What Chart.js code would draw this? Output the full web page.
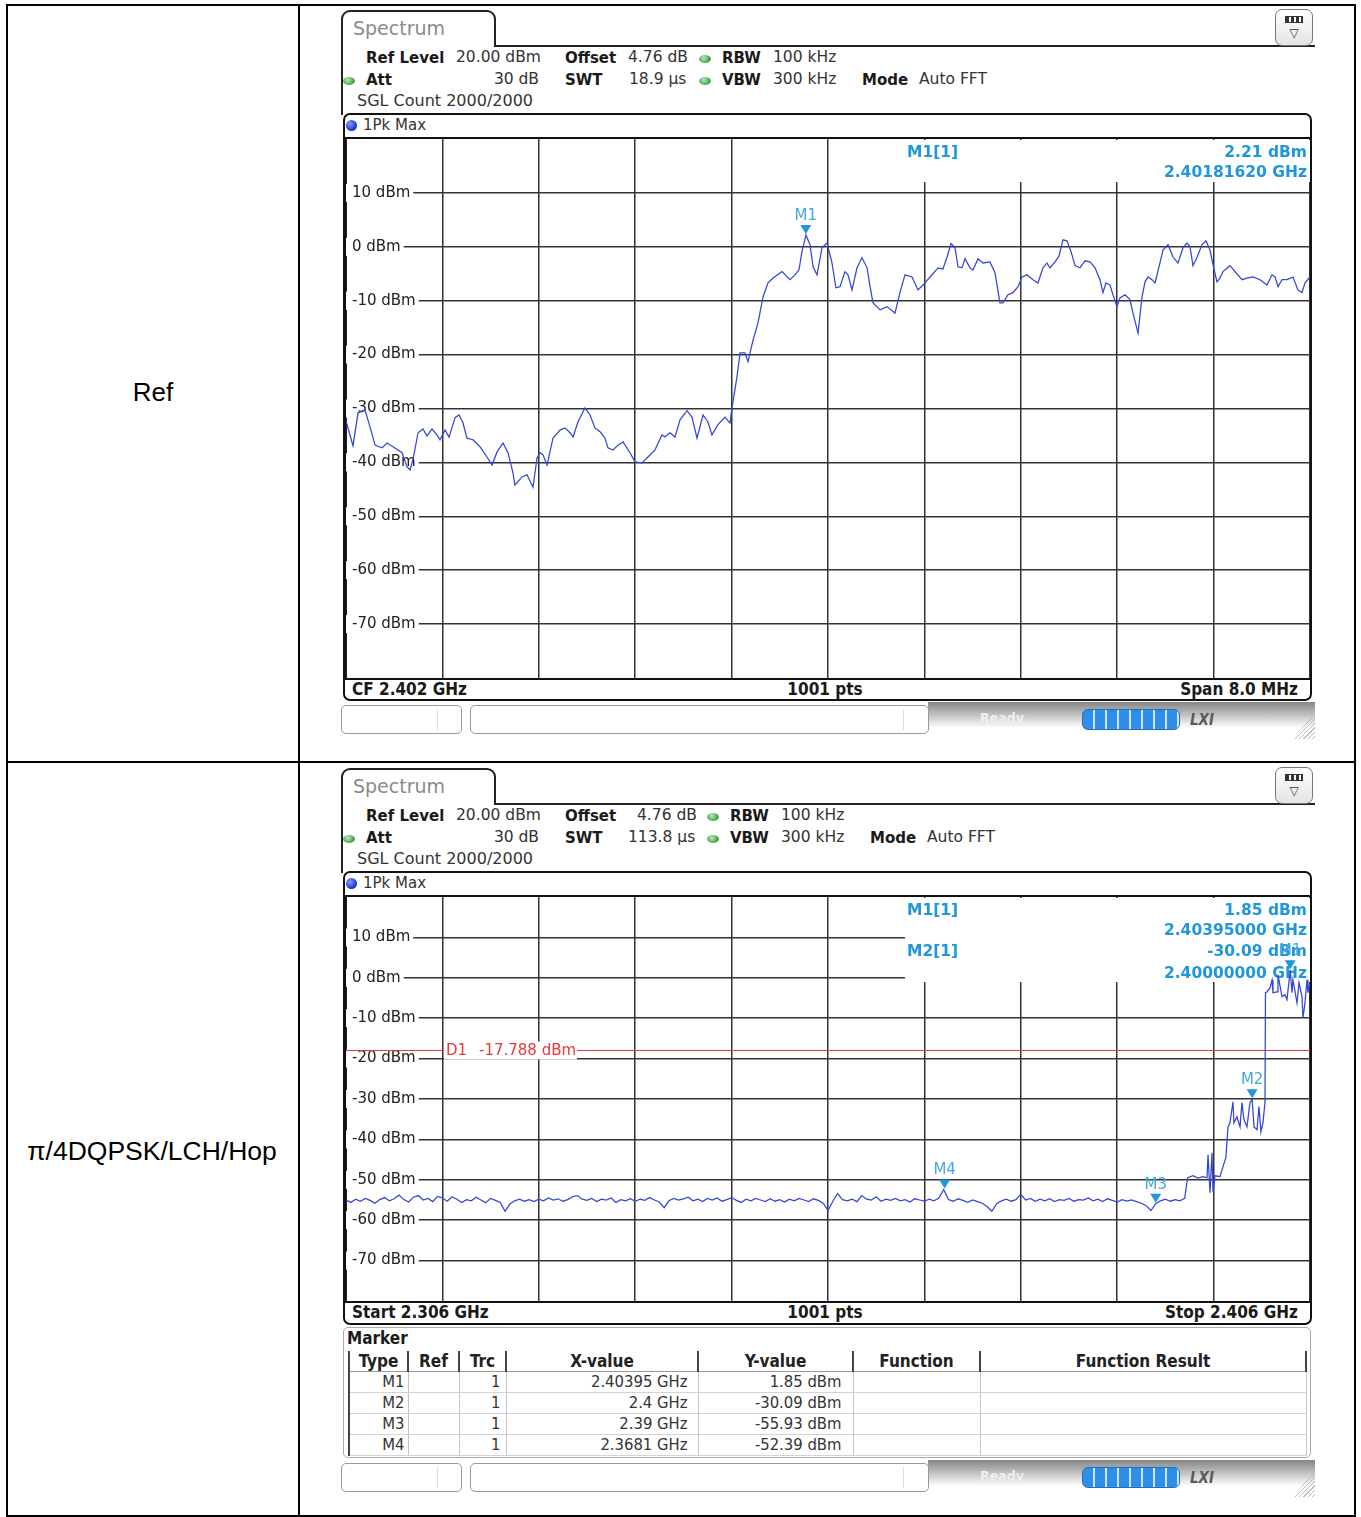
<!DOCTYPE html>
<html>
<head>
<meta charset="utf-8">
<script src="https://cdn.jsdelivr.net/npm/chart.js@4.4.1/dist/chart.umd.min.js"></script>
<style>
  html, body { margin: 0; padding: 0; background: #fff; }
  body { width: 1361px; height: 1517px; position: relative; overflow: hidden; font-family: "DejaVu Sans", sans-serif; color: #222; }
  canvas { position: absolute; }
  .cond { font-family: "DejaVu Sans Condensed", "DejaVu Sans", sans-serif; font-stretch: condensed; }
  table.mk { position: absolute; border-collapse: collapse; table-layout: fixed; }
  table.mk td, table.mk th { padding: 0; height: 20px; line-height: 20px; white-space: nowrap; overflow: hidden; }
  table.mk th { font-weight: bold; font-size: 17px; text-align: center; border-right: 2px solid #444; border-bottom: 1px solid #999; color: #222; }
  table.mk td { font-size: 16.5px; text-align: right; border-right: 1px solid #c4c4c4; border-bottom: 1px solid #d4d4d4; color: #333; }
</style>
</head>
<body>
<script>
// ---------- Ref: CF 2.402 GHz, span 8 MHz ----------
const refStartMHz = 2398;
const refStopMHz = 2406;
const refOffsetMHz = [0.000, 0.058, 0.100, 0.158, 0.199, 0.241, 0.299, 0.340, 0.390, 0.465,
  0.506, 0.531, 0.556, 0.598, 0.639, 0.672, 0.714, 0.755, 0.780, 0.822,
  0.855, 0.905, 0.938, 0.971, 1.004, 1.054, 1.112, 1.170, 1.212, 1.253,
  1.303, 1.344, 1.386, 1.402, 1.461, 1.502, 1.552, 1.585, 1.610, 1.635,
  1.668, 1.718, 1.776, 1.817, 1.859, 1.884, 1.925, 1.983, 2.025, 2.066,
  2.108, 2.149, 2.174, 2.216, 2.257, 2.299, 2.357, 2.398, 2.456, 2.506,
  2.564, 2.622, 2.647, 2.689, 2.730, 2.772, 2.830, 2.871, 2.913, 2.963,
  3.004, 3.037, 3.087, 3.145, 3.187, 3.203, 3.245, 3.270, 3.311, 3.336,
  3.378, 3.419, 3.461, 3.502, 3.544, 3.618, 3.685, 3.726, 3.759, 3.784,
  3.817, 3.851, 3.876, 3.909, 3.950, 3.992, 4.033, 4.066, 4.100, 4.141,
  4.166, 4.199, 4.241, 4.282, 4.324, 4.349, 4.374, 4.432, 4.490, 4.556,
  4.598, 4.639, 4.697, 4.747, 4.788, 4.847, 4.913, 4.954, 4.988, 5.021,
  5.054, 5.079, 5.112, 5.137, 5.178, 5.203, 5.245, 5.286, 5.344, 5.386,
  5.427, 5.452, 5.494, 5.535, 5.577, 5.610, 5.651, 5.701, 5.742, 5.784,
  5.817, 5.842, 5.884, 5.917, 5.950, 5.983, 6.017, 6.050, 6.091, 6.133,
  6.174, 6.216, 6.257, 6.282, 6.307, 6.340, 6.365, 6.398, 6.423, 6.465,
  6.506, 6.531, 6.573, 6.606, 6.631, 6.656, 6.689, 6.714, 6.755, 6.780,
  6.822, 6.863, 6.905, 6.946, 6.979, 7.004, 7.029, 7.062, 7.104, 7.137,
  7.170, 7.195, 7.228, 7.253, 7.278, 7.336, 7.378, 7.436, 7.477, 7.527,
  7.585, 7.643, 7.685, 7.710, 7.735, 7.768, 7.809, 7.859, 7.900, 7.933,
  7.959, 8.000];
const refLevel = [-32.3, -36.9, -30.8, -30.3, -33.4, -36.8, -37.3, -36.4, -37.1, -38.2,
  -40.8, -41.4, -39.5, -34.5, -33.8, -35.1, -33.8, -34.9, -35.8, -34.0,
  -35.3, -31.7, -31.2, -32.7, -35.5, -35.8, -37.1, -39.0, -40.5, -38.1,
  -36.4, -38.2, -42.0, -44.2, -42.7, -42.3, -44.6, -39.2, -38.2, -38.6,
  -40.5, -35.5, -34.0, -33.6, -34.5, -35.3, -32.5, -29.9, -31.2, -33.6,
  -34.3, -35.5, -37.3, -37.7, -36.8, -36.2, -38.2, -39.9, -40.1, -39.0,
  -37.7, -34.9, -35.3, -34.5, -35.3, -32.1, -30.4, -31.6, -35.5, -31.2,
  -32.5, -34.9, -33.0, -31.6, -32.7, -29.9, -24.1, -19.7, -19.7, -21.3,
  -17.3, -14.1, -9.3, -6.7, -5.8, -4.6, -6.1, -5.2, -4.3, -0.9,
  2.2, 0.4, -3.7, -5.2, -0.2, 0.7, -3.0, -7.6, -7.4, -4.6,
  -5.2, -8.0, -3.9, -2.0, -3.9, -7.4, -10.4, -11.7, -11.1, -12.3,
  -8.4, -5.2, -5.6, -8.0, -7.1, -5.6, -3.9, -4.1, -1.9, 0.6,
  -0.2, -3.7, -3.9, -2.2, -3.9, -4.3, -2.2, -3.0, -2.8, -4.8,
  -10.4, -10.4, -8.9, -8.5, -7.4, -5.6, -5.2, -6.1, -6.7, -3.9,
  -3.0, -3.9, -2.8, -1.7, 1.3, 1.1, -0.9, -3.5, -3.9, -2.6,
  -2.8, -3.9, -6.1, -8.5, -6.7, -7.1, -8.9, -11.1, -9.5, -8.9,
  -9.8, -12.3, -16.0, -9.3, -6.5, -5.6, -6.1, -6.7, -3.0, -0.6,
  0.4, -1.9, -3.0, -0.2, 0.7, 0.0, -3.5, -2.0, 0.4, 1.1,
  -0.6, -3.3, -6.5, -5.8, -4.6, -3.5, -4.6, -6.1, -5.8, -5.6,
  -6.1, -7.1, -5.2, -5.6, -7.4, -6.1, -6.1, -5.6, -8.0, -8.5,
  -6.7, -5.6];
const refMarkerName = ['M1'];
const refMarkerMHz = [2401.8162];
const refMarkerLevel = [2.21];

// ---------- pi/4DQPSK/LCH/Hop: 2.306 - 2.406 GHz ----------
const hopStartMHz = 2306;
const hopStopMHz = 2406;
const hopFloorMHz = [2306, 2306.5, 2307, 2307.5, 2308, 2308.5, 2309, 2309.5, 2310, 2310.5,
  2311, 2311.5, 2312, 2312.5, 2313, 2313.5, 2314, 2314.5, 2315, 2315.5,
  2316, 2316.5, 2317, 2317.5, 2318, 2318.5, 2319, 2319.5, 2320, 2320.5,
  2321, 2321.5, 2322, 2322.5, 2323, 2323.5, 2324, 2324.5, 2325, 2325.5,
  2326, 2326.5, 2327, 2327.5, 2328, 2328.5, 2329, 2329.5, 2330, 2330.5,
  2331, 2331.5, 2332, 2332.5, 2333, 2333.5, 2334, 2334.5, 2335, 2335.5,
  2336, 2336.5, 2337, 2337.5, 2338, 2338.5, 2339, 2339.5, 2340, 2340.5,
  2341, 2341.5, 2342, 2342.5, 2343, 2343.5, 2344, 2344.5, 2345, 2345.5,
  2346, 2346.5, 2347, 2347.5, 2348, 2348.5, 2349, 2349.5, 2350, 2350.5,
  2351, 2351.5, 2352, 2352.5, 2353, 2353.5, 2354, 2354.5, 2355, 2355.5,
  2356, 2356.5, 2357, 2357.5, 2358, 2358.5, 2359, 2359.5, 2360, 2360.5,
  2361, 2361.5, 2362, 2362.5, 2363, 2363.5, 2364, 2364.5, 2365, 2365.5,
  2366, 2366.5, 2367, 2367.5, 2368, 2368.5, 2369, 2369.5, 2370, 2370.5,
  2371, 2371.5, 2372, 2372.5, 2373, 2373.5, 2374, 2374.5, 2375, 2375.5,
  2376, 2376.5, 2377, 2377.5, 2378, 2378.5, 2379, 2379.5, 2380, 2380.5,
  2381, 2381.5, 2382, 2382.5, 2383, 2383.5, 2384, 2384.5, 2385, 2385.5,
  2386, 2386.5, 2387, 2387.5, 2388, 2388.5, 2389, 2389.5, 2390, 2390.5,
  2391, 2391.5, 2392, 2392.5, 2393];
const hopFloorLevel = [-55.0, -55.6, -54.8, -55.3, -54.6, -55.1, -55.8, -54.9, -54.4, -55.2,
  -54.7, -53.8, -54.9, -55.5, -54.3, -53.9, -55.0, -54.6, -55.4, -54.1,
  -54.5, -55.3, -54.2, -54.8, -55.6, -54.9, -55.2, -54.3, -55.0, -55.7,
  -54.6, -55.1, -55.6, -57.8, -56.0, -55.2, -54.8, -55.3, -54.9, -55.4,
  -54.8, -55.2, -54.5, -55.0, -54.7, -55.3, -54.9, -54.2, -53.9, -54.8,
  -55.1, -54.6, -55.4, -54.8, -55.0, -54.5, -55.6, -54.9, -55.2, -54.7,
  -55.3, -54.8, -55.1, -54.4, -55.0, -55.5, -56.9, -55.2, -54.6, -55.0,
  -54.7, -54.3, -55.2, -54.8, -55.4, -54.6, -55.0, -54.5, -55.3, -54.9,
  -54.4, -55.1, -55.6, -54.8, -55.2, -54.6, -55.0, -55.4, -54.7, -55.3,
  -54.9, -55.5, -54.8, -55.2, -54.6, -55.0, -55.4, -54.7, -55.1, -55.8,
  -57.6, -55.3, -53.4, -54.9, -55.2, -54.8, -55.4, -53.9, -54.8, -55.0,
  -54.2, -55.3, -54.8, -55.1, -54.6, -55.2, -54.9, -55.5, -54.7, -55.0,
  -55.3, -54.8, -55.2, -54.5, -52.4, -54.9, -55.3, -54.7, -55.1, -55.6,
  -55.0, -55.4, -55.8, -56.6, -57.8, -55.9, -55.2, -54.8, -55.3, -54.9,
  -53.6, -55.0, -54.6, -55.3, -54.8, -55.2, -54.7, -55.4, -54.9, -55.1,
  -54.6, -55.3, -54.9, -55.0, -54.5, -55.2, -54.8, -55.4, -54.7, -55.1,
  -55.5, -54.9, -55.3, -55.0, -55.4, -55.8, -56.4, -57.6, -55.9, -55.2,
  -54.8, -55.3, -54.9, -55.2, -54.6];
const hopEdgeMHz = [2393.30, 2393.86, 2394.38, 2394.90, 2395.32, 2395.42, 2395.63, 2395.83, 2395.94, 2396.15,
  2396.66, 2396.97, 2397.28, 2397.49, 2397.70, 2398.01, 2398.11, 2398.42, 2398.74, 2398.94,
  2399.15, 2399.46, 2399.77, 2400.00, 2400.19, 2400.50, 2400.71, 2400.91, 2401.12, 2401.33,
  2401.38, 2401.54, 2401.85, 2402.06, 2402.16, 2402.58, 2402.68, 2403.10, 2403.41, 2403.61,
  2403.95, 2404.13, 2404.23, 2404.65, 2404.86, 2405.17, 2405.27, 2405.48, 2405.69, 2405.79,
  2406.00];
const hopEdgeLevel = [-49.5, -49.0, -49.6, -49.2, -49.5, -43.8, -53.2, -43.3, -53.0, -49.0,
  -49.2, -46.8, -44.4, -36.9, -35.9, -30.7, -35.9, -34.4, -36.9, -30.9,
  -35.1, -36.9, -30.9, -30.1, -36.9, -37.6, -31.9, -38.1, -35.9, -30.9,
  -3.7, -3.5, -2.5, -0.5, -3.7, -3.5, 0.7, -4.7, -4.2, -5.4,
  1.85, -3.7, -0.5, -6.2, -1.2, -4.7, -9.9, -6.2, -0.5, -3.7,
  -1.2];
const hopMarkerName = ['M1', 'M2', 'M3', 'M4'];
const hopMarkerMHz = [2403.95, 2400.0, 2390.0, 2368.1];
const hopMarkerLevel = [1.85, -30.09, -55.93, -52.39];
const hopDisplayLine = -17.788;

// level axis, shared
const levelMin = -80;
const levelMax = 20;
const levelTicks = [10, 0, -10, -20, -30, -40, -50, -60, -70];

const TRACE = '#3346d4';
const MARK = '#1f97d9';
const GRID = '#333';

// ---------- page chrome helpers ----------
const body = document.body;
function box(css) {
  const d = document.createElement('div');
  d.style.cssText = 'position:absolute;box-sizing:border-box;' + css;
  body.appendChild(d);
  return d;
}
function txt(x, y, s, css, align) {
  const d = box(`left:${x}px;top:${y}px;white-space:nowrap;line-height:1;` + (css || ''));
  d.textContent = s;
  const tx = align === 'right' ? '-100%' : align === 'center' ? '-50%' : '0';
  d.style.transform = `translate(${tx},-50%)`;
  return d;
}
function dot(x, y) {
  box(`left:${x - 6}px;top:${y - 4}px;width:12px;height:8px;border-radius:50%;background:radial-gradient(circle at 40% 35%,#b8eab8,#3f9f3f 70%);`);
}

// outer table
box('left:6px;top:4px;width:1350px;height:1513px;border:2px solid #000;');
box('left:298px;top:4px;width:2px;height:1513px;background:#000;');
box('left:6px;top:761px;width:1350px;height:2px;background:#000;');
txt(153, 392, 'Ref', 'font-family:"Liberation Sans",Arial,sans-serif;font-size:26px;color:#000;', 'center');
txt(152, 1151, 'π/4DQPSK/LCH/Hop', 'font-family:"Liberation Sans",Arial,sans-serif;font-size:26.5px;color:#000;', 'center');

function panel(oy, plotH, frameBottom, hdr) {
  const B = 'font-weight:bold;font-size:15px;color:#1a1a1a;';
  const N = 'font-size:15.5px;color:#333;';
  // tab + top rule
  box(`left:341px;top:${oy + 10}px;width:155px;height:37px;border:2px solid #222;border-bottom:none;border-radius:9px 9px 0 0;`);
  box(`left:494px;top:${oy + 45}px;width:821px;height:2px;background:#222;`);
  box(`left:341px;top:${oy + 45}px;width:2px;height:70px;background:#222;`);
  txt(353, oy + 28, 'Spectrum', 'font-size:19px;color:#8a8a8a;');
  // icon
  box(`left:1275px;top:${oy + 9}px;width:38px;height:37px;border:1.5px solid #777;border-radius:7px;background:linear-gradient(#fff,#e4e4e4);`);
  box(`left:1285px;top:${oy + 16}px;width:18px;height:7px;border:1.5px solid #333;background:repeating-linear-gradient(90deg,#333 0 3px,#fff 3px 5px);`);
  txt(1294, oy + 33, '▽', 'font-size:12px;color:#333;', 'center');
  // header settings
  const s = hdr.shift;
  txt(366, oy + 58, 'Ref Level', B); txt(456, oy + 58, '20.00 dBm', N);
  txt(565, oy + 58, 'Offset', B); txt(628 + hdr.vShift, oy + 58, '4.76 dB', N);
  dot(705 + s, oy + 59); txt(722 + s, oy + 58, 'RBW', B); txt(773 + s, oy + 58, '100 kHz', N);
  dot(349, oy + 81); txt(366, oy + 80, 'Att', B); txt(539, oy + 80, '30 dB', N, 'right');
  txt(565, oy + 80, 'SWT', B); txt(hdr.swtX, oy + 80, hdr.swt, N);
  dot(705 + s, oy + 81); txt(722 + s, oy + 80, 'VBW', B); txt(773 + s, oy + 80, '300 kHz', N);
  txt(862 + s, oy + 80, 'Mode', B); txt(919 + s, oy + 80, 'Auto FFT', N);
  txt(357, oy + 101, 'SGL Count 2000/2000', 'font-size:16px;color:#333;');
  // trace frame
  box(`left:343px;top:${oy + 113}px;width:969px;height:${frameBottom - oy - 113}px;border:2.5px solid #111;border-radius:7px;`);
  box(`left:346px;top:${oy + 120}px;width:11px;height:11px;border-radius:50%;background:radial-gradient(circle at 35% 35%,#7f9cff,#1530c8 70%);`);
  txt(363, oy + 125, '1Pk Max', 'font-size:15px;color:#333;');
  box(`left:343px;top:${oy + 137}px;width:969px;height:2px;background:#111;`);
  box(`left:343px;top:${oy + 139 + plotH}px;width:969px;height:2px;background:#111;`);
  box(`left:343px;top:${oy + 137}px;width:4px;height:${plotH + 3}px;background:#111;`);
  const c = document.createElement('canvas');
  c.width = 964; c.height = plotH;
  c.style.cssText = `left:346px;top:${oy + 139}px;width:964px;height:${plotH}px;`;
  body.appendChild(c);
  const sy = oy + 139 + plotH + 11;
  const F = 'font-weight:bold;font-size:17px;color:#1a1a1a;';
  txt(352, sy, hdr.left, F, '').classList.add('cond');
  txt(825, sy, '1001 pts', F, 'center').classList.add('cond');
  txt(1298, sy, hdr.right, F, 'right').classList.add('cond');
  // status bar
  const st = oy + 705;
  box(`left:928px;top:${st - 3}px;width:387px;height:26px;background:linear-gradient(#858585,#fff);`);
  box(`left:341px;top:${st}px;width:121px;height:29px;border:1.5px solid #999;border-radius:5px;background:#fff;`);
  box(`left:437px;top:${st + 4}px;width:1px;height:21px;background:#ddd;`);
  box(`left:470px;top:${st}px;width:459px;height:29px;border:1.5px solid #999;border-radius:5px;background:#fff;`);
  box(`left:903px;top:${st + 4}px;width:1px;height:21px;background:#ddd;`);
  txt(980, st + 13, 'Ready', 'font-weight:bold;font-size:14px;color:#eee;').classList.add('cond');
  box(`left:1082px;top:${st + 4}px;width:98px;height:21px;border-radius:6px;border:1px solid #1c6fc4;background:repeating-linear-gradient(90deg,#2f8fe6 0 10px,#cfe6fb 10px 12px);`);
  txt(1190, st + 15, 'LXI', 'font-weight:bold;font-style:italic;font-size:15px;color:#5a5a5a;').classList.add('cond');
  box(`left:1292px;top:${st + 8}px;width:23px;height:26px;background:repeating-linear-gradient(135deg,transparent 0 2px,#bbb 2px 3px);clip-path:polygon(100% 0,100% 100%,0 100%);`);
  return c;
}

// ---------- chart ----------
function overlayPlugin(cfg) {
  const rows = [13.5, 33.5, 55, 77];
  return {
    id: 'overlay',
    beforeDatasetsDraw(chart) {
      const { ctx, chartArea: a, scales: { y } } = chart;
      ctx.save();
      ctx.fillStyle = '#fff';
      ctx.fillRect(a.left + cfg.infoLeft, a.top + 1, a.right - a.left - cfg.infoLeft, cfg.infoHeight);
      ctx.fillStyle = MARK;
      ctx.font = 'bold 15.5px "DejaVu Sans"';
      ctx.textBaseline = 'middle';
      cfg.markers.slice(0, cfg.infoCount).forEach((m, i) => {
        ctx.textAlign = 'left';
        ctx.fillText(m.name + '[1]', a.left + cfg.infoLeft + 2, a.top + rows[2 * i]);
        ctx.textAlign = 'right';
        ctx.fillText(m.level.toFixed(2) + ' dBm', a.right - 3, a.top + rows[2 * i]);
        ctx.fillText((m.mhz / 1000).toFixed(8) + ' GHz', a.right - 3, a.top + rows[2 * i + 1]);
      });
      if (cfg.displayLine != null) {
        const py = Math.round(y.getPixelForValue(cfg.displayLine)) + 0.5;
        ctx.strokeStyle = '#e5393b';
        ctx.lineWidth = 1;
        ctx.beginPath(); ctx.moveTo(a.left, py); ctx.lineTo(a.right, py); ctx.stroke();
        ctx.fillStyle = '#fff';
        ctx.fillRect(a.left + 98, py - 9, 133, 18);
        ctx.fillStyle = '#e5393b';
        ctx.font = '15px "DejaVu Sans"';
        ctx.textAlign = 'left';
        ctx.fillText('D1', a.left + 100, py + 1);
        ctx.fillText(cfg.displayLine.toFixed(3) + ' dBm', a.left + 133, py + 1);
      }
      ctx.restore();
    },
    afterDatasetsDraw(chart) {
      const { ctx, scales: { x, y } } = chart;
      ctx.save();
      ctx.textAlign = 'center';
      ctx.textBaseline = 'middle';
      ctx.font = '15px "DejaVu Sans"';
      cfg.markers.forEach(m => {
        const px = x.getPixelForValue(m.mhz);
        const py = y.getPixelForValue(m.level);
        ctx.fillStyle = MARK;
        ctx.beginPath();
        ctx.moveTo(px - 5.5, py - 10); ctx.lineTo(px + 5.5, py - 10); ctx.lineTo(px, py - 1);
        ctx.closePath(); ctx.fill();
        ctx.fillStyle = '#45a8e2';
        ctx.fillText(m.name, px, py - 19);
      });
      ctx.restore();
    }
  };
}

function noPad(s) {
  s.paddingTop = 0; s.paddingBottom = 0; s.paddingLeft = 0; s.paddingRight = 0;
}

function spectrum(canvas, points, startMHz, stopMHz, cfg) {
  const xGrid = [];
  for (let k = 0; k <= 10; k++) xGrid.push(startMHz + (stopMHz - startMHz) * k / 10);
  return new Chart(canvas, {
    type: 'line',
    data: {
      datasets: [{ data: points, borderColor: TRACE, borderWidth: 1.25, pointRadius: 0, tension: 0 }]
    },
    options: {
      responsive: false,
      animation: false,
      events: [],
      layout: { padding: 0 },
      plugins: { legend: { display: false }, tooltip: { enabled: false } },
      scales: {
        x: {
          type: 'linear', min: startMHz, max: stopMHz,
          afterBuildTicks: s => { s.ticks = xGrid.map(v => ({ value: v })); },
          afterFit: s => { s.height = 0; noPad(s); },
          ticks: { display: false },
          grid: { color: GRID, lineWidth: 1.5, drawTicks: false },
          border: { display: false }
        },
        y: {
          type: 'linear', min: levelMin, max: levelMax,
          afterBuildTicks: s => { s.ticks = levelTicks.map(v => ({ value: v })); },
          afterFit: s => { s.width = 0; noPad(s); },
          ticks: {
            mirror: true, padding: 6, color: '#222',
            font: { family: 'DejaVu Sans', size: 15 },
            callback: v => v + ' dBm',
            showLabelBackdrop: true, backdropColor: '#fff',
            backdropPadding: { left: 6, right: 3, top: 0, bottom: 0 }
          },
          grid: { color: GRID, lineWidth: 1.5, drawTicks: false },
          border: { display: false }
        }
      }
    },
    plugins: [overlayPlugin(cfg)]
  });
}

// ---------- panel 1: Ref ----------
const c1 = panel(0, 539, 701, { shift: 0, vShift: 0, swtX: 629, swt: '18.9 µs', left: 'CF 2.402 GHz', right: 'Span 8.0 MHz' });
spectrum(c1, refOffsetMHz.map((o, i) => ({ x: refStartMHz + o, y: refLevel[i] })), refStartMHz, refStopMHz, {
  infoLeft: 559, infoHeight: 42, infoCount: 1,
  markers: refMarkerName.map((n, i) => ({ name: n, mhz: refMarkerMHz[i], level: refMarkerLevel[i] }))
});

// ---------- panel 2: pi/4DQPSK/LCH/Hop ----------
const c2 = panel(758, 404, 1325, { shift: 8, vShift: 9, swtX: 628, swt: '113.8 µs', left: 'Start 2.306 GHz', right: 'Stop 2.406 GHz' });
const hopPoints = hopFloorMHz.map((f, i) => ({ x: f, y: hopFloorLevel[i] }))
  .concat(hopEdgeMHz.map((f, i) => ({ x: f, y: hopEdgeLevel[i] })));
const hopMarkers = hopMarkerName.map((n, i) => ({ name: n, mhz: hopMarkerMHz[i], level: hopMarkerLevel[i] }));
spectrum(c2, hopPoints, hopStartMHz, hopStopMHz, {
  infoLeft: 559, infoHeight: 84, infoCount: 2, displayLine: hopDisplayLine, markers: hopMarkers
});

// marker table
box('left:343px;top:1327px;width:968px;height:131px;border:1.5px solid #aaa;border-radius:5px;');
txt(347, 1338, 'Marker', 'font-weight:bold;font-size:17px;color:#1a1a1a;').classList.add('cond');
const tbl = document.createElement('table');
tbl.className = 'mk cond';
tbl.style.cssText = 'left:348px;top:1351px;width:957px;border-left:2px solid #444;';
const widths = [59, 51, 47, 192, 155, 127, 326];
const pads = [3, 0, 5, 10, 11, 0, 0];
let html = '<colgroup>' + widths.map(w => `<col style="width:${w}px">`).join('') + '</colgroup>';
html += '<tr>' + ['Type', 'Ref', 'Trc', 'X-value', 'Y-value', 'Function', 'Function Result'].map(h => `<th>${h}</th>`).join('') + '</tr>';
hopMarkers.forEach(m => {
  const cells = [m.name, '', '1', (+(m.mhz / 1000).toFixed(6)) + ' GHz', m.level.toFixed(2) + ' dBm', '', ''];
  html += '<tr>' + cells.map((c, i) => `<td style="padding-right:${pads[i]}px">${c}</td>`).join('') + '</tr>';
});
tbl.innerHTML = html;
body.appendChild(tbl);
</script>
</body>
</html>
